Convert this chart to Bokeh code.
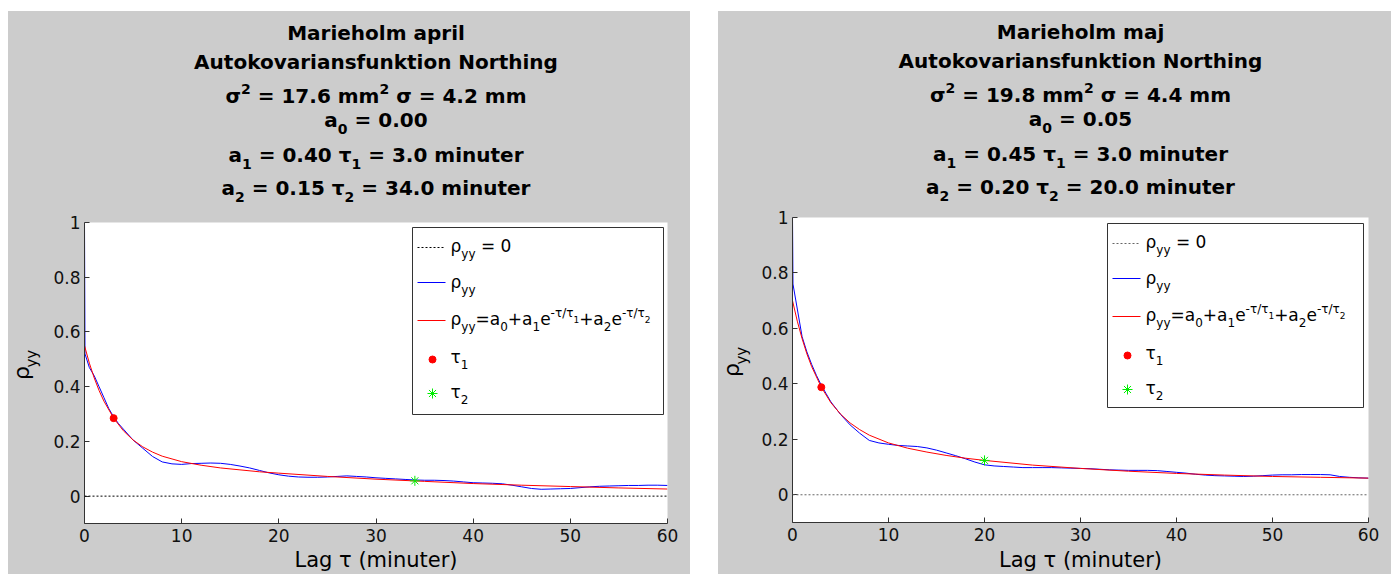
import glob
import math
from PIL import ImageFont
from bokeh.plotting import figure
from bokeh.models import Range1d, Label, Span, FixedTicker, NumeralTickFormatter, Spacer
from bokeh.layouts import row, column
from bokeh.embed import file_html
from bokeh.resources import INLINE

# ---------------- data ----------------
x_ticks = [0, 10, 20, 30, 40, 50, 60]
y_ticks = [0, 0.2, 0.4, 0.6, 0.8, 1.0]

# measured autocovariance (blue)
acf_lag = [0, 0.05, 0.5, 1, 1.5, 2, 2.5, 3, 3.5, 4,
           5, 6, 7, 8, 9, 10, 11, 12, 13, 14, 15, 16, 17, 18, 19, 20,
           21, 22, 23, 24, 25, 26, 27, 28, 29, 30, 31, 32, 33, 34, 35,
           36, 37, 38, 39, 40, 41, 42, 43, 44, 45, 46, 47, 48, 49, 50,
           51, 52, 53, 54, 55, 56, 57, 58, 59, 60]
acf_april = [1.0, 0.52, 0.47, 0.44, 0.40, 0.36, 0.32, 0.29, 0.265, 0.245,
             0.205, 0.175, 0.145, 0.125, 0.118, 0.116, 0.119, 0.120, 0.121, 0.120,
             0.116, 0.110, 0.103, 0.094, 0.085, 0.078,
             0.073, 0.070, 0.069, 0.069, 0.070, 0.072, 0.074, 0.072, 0.070, 0.067,
             0.065, 0.063, 0.061, 0.059, 0.058,
             0.058, 0.057, 0.055, 0.052, 0.049, 0.048, 0.047, 0.045, 0.040, 0.034,
             0.028, 0.025, 0.026, 0.027, 0.028,
             0.031, 0.034, 0.036, 0.037, 0.038, 0.039, 0.039, 0.040, 0.040, 0.039]
acf_maj = [1.0, 0.76, 0.67, 0.57, 0.515, 0.47, 0.43, 0.395, 0.365, 0.335,
           0.290, 0.252, 0.222, 0.196, 0.187, 0.182, 0.178, 0.176, 0.174, 0.169,
           0.161, 0.151, 0.141, 0.130, 0.118, 0.108,
           0.104, 0.102, 0.100, 0.098, 0.098, 0.098, 0.098, 0.097, 0.096, 0.095,
           0.094, 0.092, 0.090, 0.089, 0.088,
           0.088, 0.088, 0.087, 0.084, 0.081, 0.078, 0.074, 0.071, 0.069, 0.068,
           0.067, 0.066, 0.067, 0.069, 0.071,
           0.072, 0.072, 0.073, 0.073, 0.073, 0.072, 0.066, 0.063, 0.061, 0.060]

# fitted model curve (red)
fit_lag = [0, 0.5, 1, 1.5, 2, 3, 4, 5, 6, 7, 8, 10, 12, 14, 16, 18, 20,
           25, 30, 35, 40, 45, 50, 55, 60]
fit_april = [0.550, 0.486, 0.432, 0.386, 0.347, 0.285, 0.239, 0.205, 0.180,
             0.161, 0.146, 0.126, 0.113, 0.103, 0.096, 0.089, 0.084,
             0.072, 0.062, 0.054, 0.046, 0.040, 0.035, 0.030, 0.026]
fit_maj = [0.700, 0.626, 0.563, 0.508, 0.462, 0.388, 0.332, 0.291, 0.259,
           0.235, 0.215, 0.187, 0.168, 0.154, 0.142, 0.132, 0.124,
           0.107, 0.095, 0.085, 0.077, 0.071, 0.066, 0.063, 0.060]

# marked points
tau1_pt_april = (3.0, 0.285)
tau2_pt_april = (34.0, 0.056)
tau1_pt_maj = (3.0, 0.388)
tau2_pt_maj = (20.0, 0.124)

# title parameters
params_april = dict(month="april", sigma2="17.6", sigma="4.2", a0="0.00",
                    a1="0.40", tau1="3.0", a2="0.15", tau2="34.0")
params_maj = dict(month="maj", sigma2="19.8", sigma="4.4", a0="0.05",
                  a1="0.45", tau1="3.0", a2="0.20", tau2="20.0")

GRAY = "#cccccc"
GRAY_STYLE = {"background-color": GRAY}

# ---------------- text helpers ----------------
FONT = "DejaVu Sans"
_font_files = {}
for bold, name in ((False, "DejaVuSans.ttf"), (True, "DejaVuSans-Bold.ttf")):
    hits = glob.glob("/usr/share/fonts/**/" + name, recursive=True) + \
        glob.glob("/usr/local/share/fonts/**/" + name, recursive=True)
    _font_files[bold] = hits[0] if hits else None
_fcache = {}


def tw(text, size, bold=False):
    key = (bold, size)
    if key not in _fcache:
        f = None
        if _font_files[bold]:
            try:
                f = ImageFont.truetype(_font_files[bold], size)
            except Exception:
                f = None
        _fcache[key] = f
    f = _fcache[key]
    if f is None:
        return len(text) * size * (0.66 if bold else 0.6)
    return f.getlength(text)


LEVELS = {0: (1.0, 0.0), -1: (0.7, -0.36), 1: (0.7, 0.45), 2: (0.55, 0.12)}
BASE_CORR = 0.4   # observed downward shift of "alphabetic" labels, in em


def rich(p, segs, x, y, size, bold=False, align="center", vertical=False,
         color="black", rng="default"):
    pieces = []
    for t, lv in segs:
        k, sh = LEVELS[lv]
        fs = int(round(size * k))
        pieces.append((t, fs, sh * size + BASE_CORR * fs, tw(t, fs, bold)))
    total = sum(pc[3] for pc in pieces)
    cur = -total / 2.0 if align == "center" else 0.0
    for t, fs, sh, w in pieces:
        lead = len(t) - len(t.lstrip())
        off = tw(t[:lead], fs, bold) if lead else 0.0
        txt = t.strip()
        if txt:
            if vertical:
                lx, ly, ang = x - sh, y + cur + off, math.pi / 2
            else:
                lx, ly, ang = x + cur + off, y + sh, 0.0
            p.add_layout(Label(
                x=lx, y=ly, x_range_name=rng, y_range_name=rng, text=txt,
                angle=ang, text_font=FONT, text_font_size="%dpx" % fs,
                text_font_style="bold" if bold else "normal",
                text_color=color, text_align="left",
                text_baseline="alphabetic"))
        cur += w


def canvas_fig(w, h):
    f = figure(width=w, height=h, x_range=Range1d(0, w), y_range=Range1d(0, h),
               output_backend="svg", toolbar_location=None, min_border=0,
               x_axis_type=None, y_axis_type=None,
               background_fill_color=GRAY, border_fill_color=GRAY)
    f.outline_line_color = None
    f.grid.visible = False
    f.title.visible = False
    return f


# ---------------- panel builder ----------------
def panel(W, H, frame_left, frame_right, frame_top, frame_bottom,
          lag, acf, flag, fit, pt1, pt2, prm, zero_color, title_base,
          legend_box):
    # all geometry in px relative to the panel's top-left corner
    YW = 40          # width of the y-label strip
    BTOP = 10        # top border of the plot figure (room for tick label "1")
    BBOT = 26        # bottom border of the plot figure (x tick labels)
    fw = frame_right - frame_left
    fh = frame_bottom - frame_top
    title_h = frame_top - BTOP
    plot_h = BTOP + fh + BBOT
    xlab_h = H - title_h - plot_h
    fcx = frame_left + fw / 2.0

    # --- title strip ---
    tfig = canvas_fig(W, title_h)
    lines = [
        [("Marieholm " + prm["month"], 0)],
        [("Autokovariansfunktion Northing", 0)],
        [("σ", 0), ("2", 1), (" = " + prm["sigma2"] + " mm", 0), ("2", 1),
         (" σ = " + prm["sigma"] + " mm", 0)],
        [("a", 0), ("0", -1), (" = " + prm["a0"], 0)],
        [("a", 0), ("1", -1), (" = " + prm["a1"] + " τ", 0), ("1", -1),
         (" = " + prm["tau1"] + " minuter", 0)],
        [("a", 0), ("2", -1), (" = " + prm["a2"] + " τ", 0), ("2", -1),
         (" = " + prm["tau2"] + " minuter", 0)],
    ]
    for segs, base in zip(lines, title_base):
        rich(tfig, segs, fcx, title_h - base, 20, bold=True)

    # --- y label strip ---
    yfig = canvas_fig(YW, plot_h)
    rich(yfig, [("ρ", 0), ("yy", -1)], 22, BBOT + fh / 2.0, 22, vertical=True)

    # --- plot ---
    p = figure(width=W - YW, height=plot_h, x_range=Range1d(0, 60),
               y_range=Range1d(-0.1, 1.0), output_backend="svg",
               toolbar_location=None, min_border_left=frame_left - YW,
               min_border_right=W - frame_right, min_border_top=BTOP,
               min_border_bottom=BBOT,
               background_fill_color="white", border_fill_color=GRAY)
    p.title.visible = False
    p.outline_line_color = None
    p.grid.visible = False
    p.extra_x_ranges = {"px": Range1d(0, fw)}
    p.extra_y_ranges = {"px": Range1d(0, fh)}

    p.xaxis.ticker = FixedTicker(ticks=x_ticks)
    p.yaxis.ticker = FixedTicker(ticks=y_ticks)
    p.yaxis.formatter = NumeralTickFormatter(format="0.[0]")
    for ax in (p.xaxis, p.yaxis):
        ax.major_tick_in = 5
        ax.major_tick_out = 0
        ax.minor_tick_line_color = None
        ax.axis_line_color = "#333333"
        ax.major_tick_line_color = "#333333"
        ax.major_label_text_font = FONT
        ax.major_label_text_font_size = "17px"
        ax.major_label_text_color = "#111111"
    p.xaxis.major_label_standoff = 5
    p.yaxis.major_label_standoff = 4

    # data
    p.line(lag, acf, line_color="#0000ff", line_width=1)
    p.line(flag, fit, line_color="#ff0000", line_width=1)
    p.scatter([pt1[0]], [pt1[1]], marker="circle", size=7,
              fill_color="#ff0000", line_color="#ff0000")
    p.scatter([pt2[0]], [pt2[1]], marker="asterisk", size=10,
              line_color="#00ee00", line_width=1)
    p.add_layout(Span(location=0, dimension="width", line_color=zero_color,
                      line_dash="2 2", line_width=1))

    # legend (positions in frame px)
    lbx, brx, tby, bby = legend_box
    p.quad(left=[lbx], right=[brx], top=[fh - tby], bottom=[fh - bby],
           x_range_name="px", y_range_name="px", fill_color="white",
           line_color="#333333", line_width=1)
    top = fh - tby
    s_rel = [20, 55, 93, 132, 166]
    b_rel = [25, 61, 98, 136, 171]
    p.line([lbx + 5, lbx + 33], [top - s_rel[0]] * 2, x_range_name="px",
           y_range_name="px", line_color=zero_color, line_dash="2 2")
    p.line([lbx + 5, lbx + 33], [top - s_rel[1]] * 2, x_range_name="px",
           y_range_name="px", line_color="#0000ff")
    p.line([lbx + 5, lbx + 33], [top - s_rel[2]] * 2, x_range_name="px",
           y_range_name="px", line_color="#ff0000")
    p.scatter([lbx + 20], [top - s_rel[3]], x_range_name="px",
              y_range_name="px", marker="circle", size=7,
              fill_color="#ff0000", line_color="#ff0000")
    p.scatter([lbx + 20], [top - s_rel[4]], x_range_name="px",
              y_range_name="px", marker="asterisk", size=10,
              line_color="#00ee00")
    entries = [
        [("ρ", 0), ("yy", -1), (" = 0", 0)],
        [("ρ", 0), ("yy", -1)],
        [("ρ", 0), ("yy", -1), ("=a", 0), ("0", -1), ("+a", 0), ("1", -1),
         ("e", 0), ("-τ/τ", 1), ("1", 2), ("+a", 0), ("2", -1), ("e", 0),
         ("-τ/τ", 1), ("2", 2)],
        [("τ", 0), ("1", -1)],
        [("τ", 0), ("2", -1)],
    ]
    for segs, b in zip(entries, b_rel):
        rich(p, segs, lbx + 38, top - b, 17, align="left", rng="px")

    # --- x label strip ---
    xfig = canvas_fig(W, xlab_h)
    base_from_top = 557 - (frame_bottom + BBOT)
    rich(xfig, [("Lag τ (minuter)", 0)], fcx, xlab_h - base_from_top, 21)

    return column(tfig, row(yfig, p, styles=GRAY_STYLE), xfig,
                  styles=GRAY_STYLE)


H = 563
# panel 1: screen x 8..690, frame 84..667 x 222..523 (panel top at 11)
left_panel = panel(682, H, 76, 659, 211, 512, acf_lag, acf_april, fit_lag,
                   fit_april, tau1_pt_april, tau2_pt_april, params_april,
                   "black", [29, 58, 92, 116, 151, 184], (328, 579, 5, 192))
# panel 2: screen x 718..1391, frame 792..1368 x 217..522
right_panel = panel(673, H, 74, 650, 206, 511, acf_lag, acf_maj, fit_lag,
                    fit_maj, tau1_pt_maj, tau2_pt_maj, params_maj,
                    "#666666", [28, 57, 91, 115, 150, 183], (315, 571, 6, 190))

layout = column(Spacer(width=1383, height=11),
                row(Spacer(width=8, height=H), left_panel,
                    Spacer(width=28, height=H), right_panel))
open("out.html", "w").write(file_html(layout, INLINE))
